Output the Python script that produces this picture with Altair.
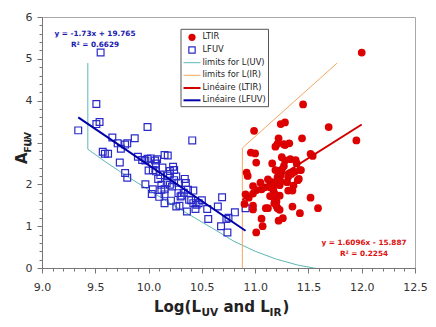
import altair as alt
import pandas as pd
import numpy as np

# ---------------- data ----------------
fuv_x = [9.34, 9.51, 9.55, 9.51, 9.54, 9.99, 10.41, 9.66, 9.71, 9.74, 9.78, 9.80, 9.87, 9.57, 9.59, 9.62,
         9.73, 9.78, 9.80, 9.90, 9.94, 9.97, 9.99, 10.06, 10.08, 10.07, 10.15, 10.18, 10.00, 10.04, 10.07,
         9.97, 10.20, 10.24, 10.18, 10.20, 10.26, 10.34, 10.35, 10.04, 10.03, 10.12, 10.15, 10.12, 10.17,
         10.20, 10.22, 10.15, 10.21, 10.15, 10.28, 10.31, 10.30, 10.37, 10.42, 10.26, 10.29, 10.36, 10.42,
         10.45, 10.47, 10.44, 10.55, 10.56, 10.65, 10.69, 10.68, 10.73, 10.74, 10.81, 10.91, 10.09, 10.24,
         10.13, 10.28, 10.40, 10.33, 10.11, 10.02, 10.23, 10.38, 10.50, 10.10, 10.75]
fuv_y = [3.29, 3.92, 5.15, 3.44, 3.49, 3.37, 3.05, 3.12, 2.98, 2.85, 2.95, 2.98, 3.10, 2.78, 2.73, 2.73,
         2.52, 2.27, 2.16, 2.66, 2.58, 2.57, 2.61, 2.57, 2.60, 2.50, 2.70, 2.69, 2.33, 2.34, 2.31,
         2.00, 2.32, 2.34, 2.21, 2.25, 2.19, 2.13, 2.03, 1.88, 1.77, 1.87, 1.88, 1.99, 2.03,
         1.99, 1.95, 1.76, 1.61, 1.55, 1.79, 1.73, 1.71, 1.87, 1.85, 1.47, 1.49, 1.35, 1.55,
         1.51, 1.55, 1.41, 1.41, 1.17, 1.47, 1.69, 1.00, 1.17, 0.85, 1.33, 1.43, 2.13, 2.10,
         2.40, 2.04, 1.62, 1.80, 2.22, 2.62, 2.42, 1.63, 1.62, 1.70, 1.20]

tir_x = [12.00, 11.45, 11.24, 11.28, 10.99, 11.69, 11.95, 11.22, 11.21, 11.28, 11.32, 11.44, 11.19, 11.27,
         10.96, 11.00, 11.01, 11.52, 11.54, 11.25, 11.28, 11.33, 11.38, 11.39, 10.92, 10.93, 11.19, 11.22,
         11.25, 11.24, 11.21, 11.34, 11.36, 11.42, 11.41, 10.98, 11.01, 10.98, 11.06, 11.09, 11.14, 11.15,
         11.18, 11.23, 11.24, 11.31, 11.35, 10.91, 10.94, 11.14, 11.18, 11.23, 10.90, 10.98, 10.98, 11.12,
         11.18, 11.20, 11.21, 11.35, 11.42, 11.52, 11.59, 11.06, 11.07, 11.22, 11.26, 11.01, 11.15, 11.23,
         11.31, 11.32, 11.37, 11.40, 11.43, 11.10, 11.23, 11.20, 11.18, 11.27, 11.30, 11.12, 11.05, 11.17,
         11.36, 11.16]
tir_y = [5.15, 3.91, 3.44, 3.48, 3.28, 3.37, 3.05, 3.10, 2.97, 2.94, 2.98, 3.10, 2.90, 2.96,
         2.76, 2.74, 2.52, 2.73, 2.68, 2.65, 2.57, 2.60, 2.58, 2.50, 2.28, 2.20, 2.34, 2.32,
         2.35, 2.22, 2.17, 2.25, 2.30, 2.34, 2.13, 1.96, 1.86, 1.78, 1.88, 1.93, 1.93, 1.98,
         2.00, 1.98, 2.06, 1.85, 1.85, 1.76, 1.68, 1.72, 1.67, 1.73, 1.53, 1.49, 1.40, 1.43,
         1.55, 1.48, 1.43, 1.47, 1.31, 1.68, 1.43, 1.18, 1.00, 1.13, 1.19, 0.85, 2.06, 2.10,
         2.18, 2.26, 2.30, 2.10, 2.34, 1.43, 1.39, 1.59, 1.79, 2.44, 2.05, 2.12, 2.04, 1.87,
         1.97, 2.50]

uvlim_x = [9.43, 9.43, 9.60, 9.80, 10.00, 10.20, 10.40, 10.60, 10.80, 11.00, 11.20, 11.40, 11.55, 11.70]
uvlim_y = [4.90, 2.84, 2.53, 2.19, 1.87, 1.55, 1.25, 0.95, 0.64, 0.40, 0.21, 0.07, 0.00, -0.07]

irlim_x = [11.77, 10.88, 10.88]
irlim_y = [4.90, 2.87, 0.00]

fuvfit_x = [9.34, 10.91]
fuvfit_y = [3.60, 0.89]
tirfit_x = [10.88, 12.00]
tirfit_y = [1.63, 3.43]

x_ticks = [9.0, 9.5, 10.0, 10.5, 11.0, 11.5, 12.0, 12.5]
y_ticks = [0, 1, 2, 3, 4, 5, 6]
x_minor = [round(9.0 + 0.1 * i, 1) for i in range(36)]
y_minor = [round(0.2 * i, 1) for i in range(31)]

legend_labels = ["LTIR", "LFUV", "limits for L(UV)", "limits for L(IR)", "Linéaire (LTIR)", "Linéaire (LFUV)"]
eq_fuv = ["y = -1.73x + 19.765", "R\u00b2 = 0.6629"]
eq_tir = ["y = 1.6096x - 15.887", "R\u00b2 = 0.2254"]

# ---------------- styles ----------------
RED = "#dd0000"
BLUE_PT = "#2a2ac8"
BLUE_LN = "#0000a8"
RED_LN = "#d00000"
TEAL = "#5db8b4"
ORANGE = "#f4a862"
FONT = "DejaVu Sans"

W, H = 373, 251
xs = alt.Scale(domain=[9.0, 12.5], nice=False, zero=False)
ys = alt.Scale(domain=[0, 6], nice=False, zero=False)


def X(f, axis=None):
    return alt.X(f, type="quantitative", scale=xs, axis=axis)


def Y(f, axis=None):
    return alt.Y(f, type="quantitative", scale=ys, axis=axis)


fuv = pd.DataFrame({"x": fuv_x, "y": fuv_y})
tir = pd.DataFrame({"x": tir_x, "y": tir_y})
uvlim = pd.DataFrame({"x": uvlim_x, "y": uvlim_y, "o": list(range(len(uvlim_x)))})
irlim = pd.DataFrame({"x": irlim_x, "y": irlim_y, "o": list(range(len(irlim_x)))})
fuvfit = pd.DataFrame({"x": fuvfit_x, "y": fuvfit_y})
tirfit = pd.DataFrame({"x": tirfit_x, "y": tirfit_y})
one = pd.DataFrame({"a": [0]})

major_x = alt.Axis(values=x_ticks, format=".1f", orient="bottom", title=None, grid=False,
                   labelFont=FONT, labelFontSize=11, labelColor="#333", labelPadding=8,
                   labelFlush=False, labelOverlap=False, tickSize=5, tickColor="#777",
                   domainColor="#777")
major_y = alt.Axis(values=y_ticks, format="d", orient="left", title=None, grid=False,
                   labelFont=FONT, labelFontSize=11, labelColor="#333", labelPadding=5,
                   labelFlush=False, labelOverlap=False, tickSize=5, tickColor="#777",
                   domainColor="#777")
minor_x = alt.Axis(values=x_minor, orient="bottom", title=None, grid=False, labels=False,
                   domain=False, tickSize=3, tickColor="#777")
minor_y = alt.Axis(values=y_minor, orient="left", title=None, grid=False, labels=False,
                   domain=False, tickSize=3, tickColor="#777")

uv_line = alt.Chart(uvlim).mark_line(color=TEAL, strokeWidth=1, clip=True).encode(
    x=X("x"), y=Y("y"), order="o:Q")
ir_line = alt.Chart(irlim).mark_line(color=ORANGE, strokeWidth=1, clip=True).encode(
    x=X("x"), y=Y("y"), order="o:Q")

fuv_pts = alt.Chart(fuv).mark_point(shape="square", filled=False, size=46, strokeWidth=1.2,
                                    color=BLUE_PT, opacity=1).encode(
    x=X("x", major_x), y=Y("y", major_y))
minor = alt.Chart(one).mark_point(opacity=0).encode(
    x=alt.X("a:Q", scale=xs, axis=minor_x), y=alt.Y("a:Q", scale=ys, axis=minor_y))

tir_pts = alt.Chart(tir).mark_circle(size=60, color=RED, opacity=1).encode(x=X("x"), y=Y("y"))

fuv_fit = alt.Chart(fuvfit).mark_line(color=BLUE_LN, strokeWidth=2).encode(x=X("x"), y=Y("y"))
tir_fit = alt.Chart(tirfit).mark_line(color=RED_LN, strokeWidth=2).encode(x=X("x"), y=Y("y"))

# equations
eqf = pd.DataFrame({"t": eq_fuv, "px": [53, 53], "py": [16.5, 27.5]})
eqt = pd.DataFrame({"t": eq_tir, "px": [322, 322], "py": [225.7, 236.5]})
eq_fuv_txt = alt.Chart(eqf).mark_text(font=FONT, fontSize=7.3, fontWeight="bold", color="#1a1ab0",
                                      align="center", baseline="middle").encode(
    x=alt.X("px:Q", scale=None, axis=None), y=alt.Y("py:Q", scale=None, axis=None), text="t:N")
eq_tir_txt = alt.Chart(eqt).mark_text(font=FONT, fontSize=7.3, fontWeight="bold", color="#dd1111",
                                      align="center", baseline="middle").encode(
    x=alt.X("px:Q", scale=None, axis=None), y=alt.Y("py:Q", scale=None, axis=None), text="t:N")

# legend
leg_box = alt.Chart(one).mark_rect(fill="white", stroke="#555", strokeWidth=1).encode(
    x=alt.value(139), x2=alt.value(226.5), y=alt.value(12.3), y2=alt.value(89.7))
rows = [20.3, 33.0, 45.7, 58.3, 71.0, 83.3]
leg_txt = alt.Chart(pd.DataFrame({"t": legend_labels, "py": rows})).mark_text(
    font=FONT, fontSize=8.3, color="#222", align="left", baseline="middle").encode(
    x=alt.value(160.5), y=alt.Y("py:Q", scale=None, axis=None), text="t:N")
leg_circ = alt.Chart(one).mark_circle(size=52, color=RED, opacity=1).encode(
    x=alt.value(150), y=alt.value(rows[0]))
leg_sq = alt.Chart(one).mark_point(shape="square", filled=False, size=40, strokeWidth=1.2,
                                   color=BLUE_PT, opacity=1).encode(
    x=alt.value(150), y=alt.value(rows[1]))
leg_lines = pd.DataFrame({"py": rows[2:], "c": [TEAL, ORANGE, RED_LN, BLUE_LN], "w": [1, 1, 2, 2]})
leg_ln = alt.Chart(leg_lines).mark_rule().encode(
    x=alt.value(141.5), x2=alt.value(158.5), y=alt.Y("py:Q", scale=None, axis=None),
    color=alt.Color("c:N", scale=None), strokeWidth=alt.StrokeWidth("w:Q", scale=None))

# axis titles (with subscripts)
xt = pd.DataFrame({"t": ["Log(L", "UV", "and L", "IR", ")"],
                   "px": [112, 159.5, 181.5, 227.5, 240.5],
                   "py": [295, 298.5, 295, 298.5, 295],
                   "fs": [15, 10.5, 15, 10.5, 15]})
x_title = alt.Chart(xt).mark_text(font=FONT, fontWeight="bold", color="#222", align="left",
                                  baseline="alphabetic").encode(
    x=alt.X("px:Q", scale=None, axis=None), y=alt.Y("py:Q", scale=None, axis=None),
    text="t:N", size=alt.Size("fs:Q", scale=None, legend=None))
yt = pd.DataFrame({"t": ["A", "FUV"], "px": [-20, -14.5], "py": [147, 135.5], "fs": [15, 9]})
y_title = alt.Chart(yt).mark_text(font=FONT, fontWeight="bold", color="#222", align="left",
                                  baseline="middle", angle=270).encode(
    x=alt.X("px:Q", scale=None, axis=None), y=alt.Y("py:Q", scale=None, axis=None),
    text="t:N", size=alt.Size("fs:Q", scale=None, legend=None))

chart = alt.layer(
    uv_line, ir_line, fuv_pts, minor, tir_pts, fuv_fit, tir_fit,
    eq_fuv_txt, eq_tir_txt, leg_box, leg_ln, leg_circ, leg_sq, leg_txt, x_title, y_title
).resolve_axis(x="independent", y="independent").properties(
    width=W, height=H,
    autosize=alt.AutoSizeParams(type="none"),
    padding={"left": 34, "top": 9, "right": 13, "bottom": 50},
).configure_view(stroke="#a8a8a8", strokeWidth=1)

chart.save("out.html", embed_options={"renderer": "svg", "actions": False})
